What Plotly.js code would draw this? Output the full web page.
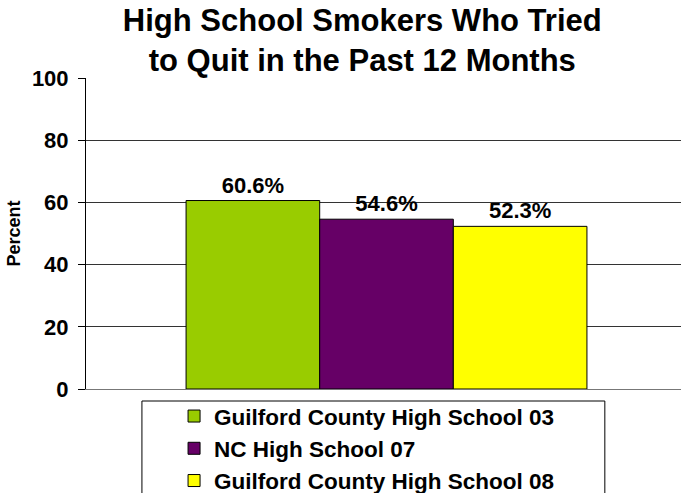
<!DOCTYPE html>
<html>
<head>
<meta charset="utf-8">
<script src="https://cdn.plot.ly/plotly-3.0.1.min.js"></script>
<style>html,body{margin:0;padding:0;background:#fff;}#chart{width:681px;height:493px;}</style>
</head>
<body>
<div id="chart"></div>
<script>
var category = ['All'];
var seriesNames = ['Guilford County High School 03', 'NC High School 07', 'Guilford County High School 08'];
var seriesValues = [60.6, 54.6, 52.3];
var seriesColors = ['#99CC00', '#660066', '#FFFF00'];
var yTicks = [0, 20, 40, 60, 80, 100];

var FONT = 'Liberation Sans, Arial, sans-serif';
var traces = seriesNames.map(function (name, i) {
  return {
    type: 'bar',
    name: name,
    x: category,
    y: [seriesValues[i]],
    legendgroup: 'g' + i,
    marker: {color: seriesColors[i], line: {color: '#000', width: 1}},
    text: [seriesValues[i].toFixed(1) + '%'],
    textposition: 'outside',
    cliponaxis: false,
    textfont: {family: FONT, size: 22, color: '#000', weight: 'bold'},
    hoverinfo: 'none'
  };
});

var layout = {
  width: 681, height: 493,
  margin: {l: 86, r: 0, t: 78, b: 104, autoexpand: false},
  paper_bgcolor: '#fff', plot_bgcolor: '#fff',
  barmode: 'group',
  bargap: 0.333, bargroupgap: 0,
  font: {family: FONT, color: '#000'},
  title: {
    text: '<b>High School Smokers Who Tried<br>to Quit in the Past 12 Months</b>',
    font: {family: FONT, size: 31, color: '#000'},
    x: 0.532, xanchor: 'center', y: 0.938, yanchor: 'top', xref: 'container', yref: 'container'
  },
  xaxis: {
    range: [-0.5, 0.49], showticklabels: false, ticks: '', showgrid: false,
    showline: true, linecolor: '#777', linewidth: 1, zeroline: false, fixedrange: true
  },
  yaxis: {
    range: [0, 100], tickvals: yTicks, ticktext: yTicks.map(String),
    tickfont: {family: FONT, size: 22, color: '#000', weight: 'bold'},
    ticks: 'outside', ticklen: 7, tickcolor: '#000', tickwidth: 1, ticklabelstandoff: 5,
    showline: true, linecolor: '#000', linewidth: 1,
    showgrid: true, gridcolor: '#333', gridwidth: 1, zeroline: false,
    title: {text: '<b>Percent</b>', font: {family: FONT, size: 18, color: '#000'}, standoff: 6},
    fixedrange: true
  },
  showlegend: true,
  legend: {
    x: 0.148, xanchor: 'left', y: -0.019, yanchor: 'top',
    font: {family: FONT, size: 22.5, color: '#000', weight: 'bold'},
    bgcolor: 'rgba(0,0,0,0)', borderwidth: 0,
    traceorder: 'grouped', tracegroupgap: 0
  },
  shapes: [{
    type: 'rect', xref: 'paper', yref: 'paper',
    x0: 0.094, x1: 0.872, y0: -0.0386, y1: -0.5,
    line: {color: '#000', width: 1}, fillcolor: 'rgba(0,0,0,0)', layer: 'below'
  }]
};

Plotly.newPlot('chart', traces, layout, {displayModeBar: false, staticPlot: true});
</script>
</body>
</html>
